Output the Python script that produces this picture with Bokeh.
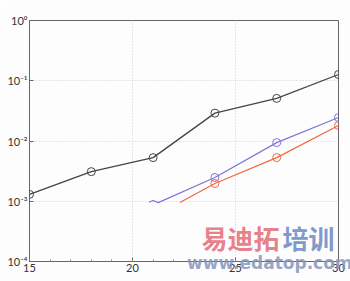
from bokeh.plotting import figure
from bokeh.models import FixedTicker, Label, Range1d
from bokeh.embed import file_html
from bokeh.resources import INLINE

# data
black_x = [15, 18, 21, 24, 27, 30]
black_y = [1.3e-3, 3.1e-3, 5.3e-3, 2.9e-2, 5.1e-2, 1.27e-1]

purple_x = [20.8, 21.0, 21.25, 24, 27, 30]
purple_y = [9.6e-4, 1.03e-3, 9.5e-4, 2.48e-3, 9.4e-3, 2.45e-2]
purple_mx = [24, 27, 30]
purple_my = [2.48e-3, 9.4e-3, 2.45e-2]

orange_x = [22.3, 24, 27, 30]
orange_y = [9.5e-4, 1.97e-3, 5.3e-3, 1.81e-2]
orange_mx = [24, 27, 30]
orange_my = [1.97e-3, 5.3e-3, 1.81e-2]

x_ticks = [15, 20, 25, 30]
y_ticks = [1e-4, 1e-3, 1e-2, 1e-1, 1e0]
y_labels = ["10\u207b\u2074", "10\u207b\u00b3", "10\u207b\u00b2", "10\u207b\u00b9", "10\u2070"]

p = figure(width=350, height=281, y_axis_type="log", output_backend="svg",
           toolbar_location=None, x_range=Range1d(15, 30), y_range=Range1d(1e-4, 1e0),
           min_border_left=29, min_border_right=12, min_border_top=20, min_border_bottom=20,
           background_fill_color="#fdfdfd", border_fill_color="#fdfdfd",
           outline_line_color="#666666", outline_line_width=1)

font = "Lato"
for ax in (p.xaxis[0], p.yaxis[0]):
    ax.major_tick_in = 4
    ax.major_tick_out = 0
    ax.minor_tick_in = 2
    ax.minor_tick_out = 0
    ax.axis_line_color = "#666666"
    ax.major_tick_line_color = "#666666"
    ax.minor_tick_line_color = "#888888"
    ax.major_label_text_font = font
    ax.major_label_text_font_size = "11px"
    ax.major_label_text_color = "#333333"
    ax.major_label_standoff = 2

p.xaxis.ticker = FixedTicker(ticks=x_ticks, minor_ticks=list(range(15, 31)))
p.xaxis.major_label_overrides = {t: str(t) for t in x_ticks}
p.yaxis.ticker = FixedTicker(ticks=y_ticks)
p.yaxis.major_label_overrides = {t: l for t, l in zip(y_ticks, y_labels)}

# watermark web address, drawn as the x axis label so that it is not clipped by the frame
p.xaxis.axis_label = "\u00a0" * 29 + "www.edatop.com"
p.xaxis.axis_label_text_font = "DejaVu Sans"
p.xaxis.axis_label_text_font_size = "17px"
p.xaxis.axis_label_text_font_style = "bold"
p.xaxis.axis_label_text_color = "#8496bb"
p.xaxis.axis_label_text_alpha = 0.85
p.xaxis.axis_label_standoff = -22

p.xgrid.grid_line_color = "#cfcfcf"
p.xgrid.grid_line_dash = "1 2"
p.ygrid.grid_line_color = "#cfcfcf"
p.ygrid.grid_line_dash = "1 2"
p.ygrid.minor_grid_line_color = "#e2e2e2"
p.ygrid.minor_grid_line_dash = "1 2"

p.line(black_x, black_y, line_color="#444444", line_width=1.3)
p.scatter(black_x, black_y, marker="circle", size=8, fill_color=None,
          line_color="#444444", line_width=1)

p.line(purple_x, purple_y, line_color="#7f74d8", line_width=1.2)
p.scatter(purple_mx, purple_my, marker="circle", size=8, fill_color=None,
          line_color="#7f74d8", line_width=1)

p.line(orange_x, orange_y, line_color="#f2673f", line_width=1.2)
p.scatter(orange_mx, orange_my, marker="circle", size=8, fill_color=None,
          line_color="#f2673f", line_width=1)

# watermark
p.add_layout(Label(x=172, y=6, x_units="screen", y_units="screen", text="易迪拓",
                   text_font="Noto Sans CJK SC", text_font_size="26px", text_font_style="bold",
                   text_color="#e4707c", text_alpha=0.9, level="overlay"))
p.add_layout(Label(x=253, y=6, x_units="screen", y_units="screen", text="培训",
                   text_font="Noto Sans CJK SC", text_font_size="26px", text_font_style="bold",
                   text_color="#6f8cc6", text_alpha=0.9, level="overlay"))

open("out.html", "w").write(file_html(p, INLINE))
